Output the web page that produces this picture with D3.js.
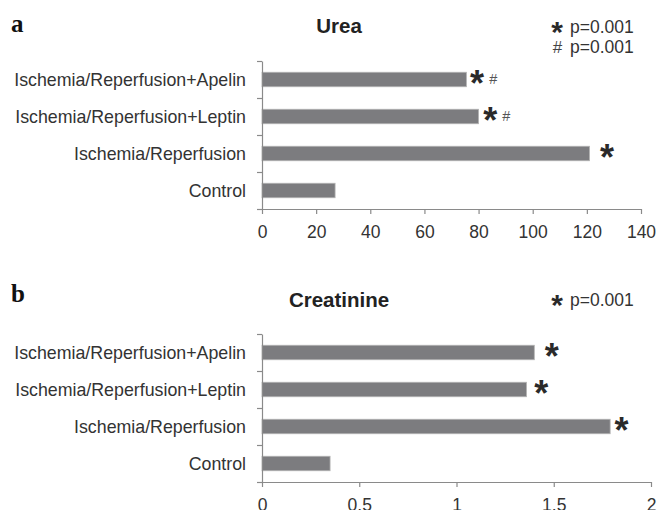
<!DOCTYPE html>
<html><head><meta charset="utf-8">
<script src="https://cdn.jsdelivr.net/npm/d3@7"></script>
<style>
body{margin:0;background:#fff}
svg{display:block}
text{font-family:"Liberation Sans",Arial,Helvetica,sans-serif}
</style>
</head><body>
<svg id="c" width="657" height="510"></svg>
<script>
// ---- data ----
const categories = ["Ischemia/Reperfusion+Apelin", "Ischemia/Reperfusion+Leptin", "Ischemia/Reperfusion", "Control"];
const ureaValues = [75.5, 80, 121, 27];
const creatinineValues = [1.40, 1.36, 1.79, 0.35];
const ureaTicks = [0, 20, 40, 60, 80, 100, 120, 140];
const creatinineTicks = [0, 0.5, 1, 1.5, 2];
// significance marker locations (in data units)
const ureaStarAt = [79.4, 84.3, 127.4, null];
const ureaHashAt = [85.4, 90.2, null, null];
const creatinineStarAt = [1.49, 1.436, 1.848, null];
const pLabel = "p=0.001";

// ---- drawing ----
const svg = d3.select("#c");
const AX = "#8a8a8a", TXT = "#333", BAR = "#7c7c7f", BAR_EDGE = "#b4b4b4";
const STAR_FS = 36;

function star(g, cx, cy, fs) {
  g.append("text").attr("x", cx).attr("y", cy + 0.48 * fs)
    .attr("text-anchor", "middle").attr("font-size", fs).attr("font-weight", "bold")
    .attr("fill", "#2a2a2a").text("*");
}

function panel(cfg) {
  const g = svg.append("g");
  const x = d3.scaleLinear().domain([cfg.ticks[0], cfg.ticks[cfg.ticks.length - 1]]).range([262, cfg.right]);
  const y = d3.scaleBand().domain(categories).range([cfg.top, cfg.bottom]).paddingInner(0);
  const yb = d3.scaleLinear().domain([0, categories.length]).range([cfg.bottom, cfg.top]);

  // bars
  g.selectAll("rect.bar").data(cfg.values).join("rect").attr("class", "bar")
    .attr("x", x(0)).attr("y", (d, i) => y(categories[i]) + (y.bandwidth() - 14.5) / 2)
    .attr("width", d => x(d) - x(0)).attr("height", 14.5)
    .attr("fill", BAR).attr("stroke", BAR_EDGE).attr("stroke-width", 0.8);

  // y axis boundary ticks
  const ya = g.append("g").attr("transform", `translate(${x(0)},0)`)
    .call(d3.axisLeft(yb).tickValues(d3.range(categories.length + 1)).tickFormat("").tickSize(5).tickSizeOuter(0));
  ya.selectAll("path,line").attr("stroke", AX).attr("stroke-width", 1.2);

  // category labels
  g.selectAll("text.cat").data(categories).join("text").attr("class", "cat")
    .attr("x", 246).attr("y", d => y(d) + y.bandwidth() / 2 + 6.6)
    .attr("text-anchor", "end").attr("font-size", 17.8).attr("fill", TXT).text(d => d);

  // x axis
  const xa = g.append("g").attr("transform", `translate(0,${cfg.bottom})`)
    .call(d3.axisBottom(x).tickValues(cfg.ticks).tickFormat(d3.format("")).tickSize(5).tickSizeOuter(0));
  xa.selectAll("path,line").attr("stroke", AX).attr("stroke-width", 1.2);
  xa.selectAll("text").attr("font-size", 17.5).attr("fill", TXT).attr("dy", null).attr("y", 28.5)
    .style("font-family", '"Liberation Sans",Arial,sans-serif');

  // significance markers
  cfg.star.forEach((v, i) => {
    if (v == null) return;
    star(g, x(v), y(categories[i]) + y.bandwidth() / 2 - 0.5, STAR_FS);
  });
  (cfg.hash || []).forEach((v, i) => {
    if (v == null) return;
    g.append("text").attr("x", x(v)).attr("y", y(categories[i]) + y.bandwidth() / 2 + 4.8)
      .attr("text-anchor", "middle").attr("font-size", 14.5).attr("fill", "#555").text("#");
  });

  // panel letter + title
  g.append("text").attr("x", 11).attr("y", cfg.letterY).attr("font-size", 25).attr("font-weight", "bold")
    .style("font-family", '"Liberation Serif","Times New Roman",serif').attr("fill", "#111").text(cfg.letter);
  g.append("text").attr("x", 339).attr("y", cfg.titleY).attr("text-anchor", "middle")
    .attr("font-size", 20.5).attr("font-weight", "bold").attr("fill", "#222").text(cfg.title);

  // legend
  star(g, 557, cfg.titleY - 6, 30);
  g.append("text").attr("x", 570).attr("y", cfg.titleY - 0.5).attr("font-size", 17.5).attr("fill", TXT).text(pLabel);
  if (cfg.hash) {
    g.append("text").attr("x", 557.5).attr("y", cfg.titleY + 19.5).attr("text-anchor", "middle")
      .attr("font-size", 17).attr("fill", "#444").text("#");
    g.append("text").attr("x", 570).attr("y", cfg.titleY + 19.5).attr("font-size", 17.5).attr("fill", TXT).text(pLabel);
  }
}

panel({letter: "a", title: "Urea", ticks: ureaTicks, values: ureaValues, star: ureaStarAt, hash: ureaHashAt,
       top: 61, bottom: 209, right: 641, letterY: 32, titleY: 33.3});
panel({letter: "b", title: "Creatinine", ticks: creatinineTicks, values: creatinineValues, star: creatinineStarAt, hash: null,
       top: 334, bottom: 482, right: 651, letterY: 302, titleY: 306.7});
</script>
</body></html>
